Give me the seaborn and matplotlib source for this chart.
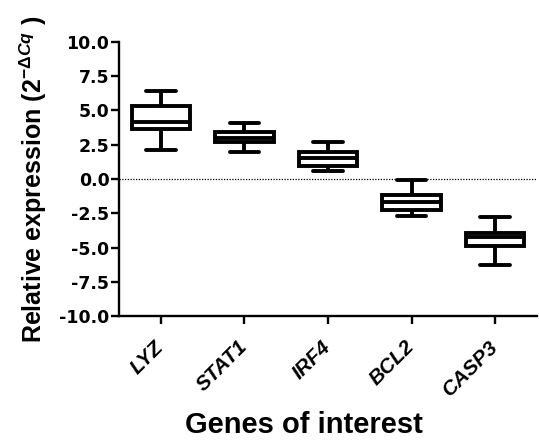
import matplotlib
matplotlib.use("Agg")
import matplotlib.pyplot as plt
import seaborn as sns
import pandas as pd

genes = ["LYZ", "STAT1", "IRF4", "BCL2", "CASP3"]
# five-number summaries: min, q1, median, q3, max
lyz = [2.1, 3.65, 4.15, 5.3, 6.45]
stat1 = [2.0, 2.72, 3.0, 3.45, 4.1]
irf4 = [0.57, 0.98, 1.55, 2.0, 2.72]
bcl2 = [-2.7, -2.29, -1.69, -1.13, -0.05]
casp3 = [-6.28, -4.88, -4.22, -3.92, -2.78]
yticks = [10.0, 7.5, 5.0, 2.5, 0.0, -2.5, -5.0, -7.5, -10.0]

sns.set_style("white")
plt.rcParams["font.family"] = ["Liberation Sans", "DejaVu Sans"]
plt.rcParams["text.color"] = "black"
plt.rcParams["axes.labelcolor"] = "black"
plt.rcParams["xtick.color"] = "black"
plt.rcParams["ytick.color"] = "black"
plt.rcParams["mathtext.fontset"] = "custom"
plt.rcParams["mathtext.rm"] = "Liberation Sans:bold"
plt.rcParams["mathtext.it"] = "Liberation Sans:bold:italic"
plt.rcParams["mathtext.bf"] = "Liberation Sans:bold"

rows = []
for g, vals in zip(genes, [lyz, stat1, irf4, bcl2, casp3]):
    for v in vals:
        rows.append({"gene": g, "value": v})
df = pd.DataFrame(rows)

fig = plt.figure(figsize=(5.39, 4.41), dpi=100)
ax = fig.add_axes([0.221, 0.283, 0.775, 0.622])

lw = 2.8
sns.boxplot(data=df, x="gene", y="value", order=genes, ax=ax, whis=(0, 100),
            width=0.7, color="white", linecolor="black", linewidth=lw,
            showfliers=False,
            boxprops=dict(facecolor="white", edgecolor="black", linewidth=lw),
            whiskerprops=dict(color="black", linewidth=lw),
            capprops=dict(color="black", linewidth=lw),
            medianprops=dict(color="black", linewidth=lw))

ax.axhline(0, color="black", linestyle=(0, (1, 1.2)), linewidth=0.9, zorder=0)

ax.set_xlim(-0.5, 4.5)
ax.set_ylim(-10, 10)
ax.set_yticks(yticks)
ax.set_yticklabels([f"{t:.1f}" for t in yticks], fontsize=12.5, fontweight="bold",
                   family="DejaVu Sans")
ax.set_xticks(range(len(genes)))
ax.set_xticklabels(genes, rotation=45, ha="right", va="center", rotation_mode="anchor",
                   fontsize=15, fontweight="bold", fontstyle="italic")

for s in ["top", "right"]:
    ax.spines[s].set_visible(False)
for s in ["left", "bottom"]:
    ax.spines[s].set_linewidth(1.7)
    ax.spines[s].set_color("black")
ax.tick_params(axis="y", direction="out", length=6, width=1.7, color="black", pad=1, left=True)
ax.tick_params(axis="x", direction="out", length=6, width=1.7, color="black", pad=14, bottom=True)

ax.set_ylabel(r"Relative expression (2$^{-\mathit{\Delta Cq}}$ )", fontsize=18,
              fontweight="bold", labelpad=7)
ax.set_xlabel("Genes of interest", fontsize=21, fontweight="bold", labelpad=8, x=0.443)

fig.savefig("out.png", dpi=100)
